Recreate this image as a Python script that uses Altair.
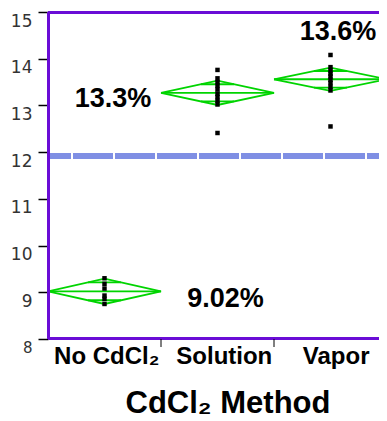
import altair as alt
import pandas as pd
import numpy as np

# ---- data ----
groups = ["No CdCl₂", "Solution", "Vapor"]
group_center = [0.5, 1.5, 2.5]
group_left = [0.0, 1.0, 2.0]
group_right = [1.0, 2.0, 3.0]
means = [9.02, 13.27, 13.56]
diamond_half = [0.27, 0.26, 0.25]

pts_no = [9.30, 9.18, 9.08, 8.93, 8.86, 8.75]
pts_solution = [13.76, 13.58, 13.50, 13.42, 13.34, 13.25, 13.18, 13.10, 13.02, 12.41]
pts_vapor = [14.08, 13.82, 13.75, 13.68, 13.62, 13.55, 13.48, 13.40, 13.32, 12.55]

grand_mean = 11.92

annot_text = ["9.02%", "13.3%", "13.6%"]
annot_x = [1.57, 0.575, 2.566]
annot_y = [8.69, 12.97, 14.40]

label_x = [0.52, 1.56, 2.55]
y_ticks = [8, 9, 10, 11, 12, 13, 14, 15]
boundaries = [1.0, 2.0]

UNIT = 113          # pixels per category
W, H = 331, 327     # visible plot area (right part of last category is cut off)
X_MAX = W / UNIT
PURPLE = "#6a0dd6"
GREEN = "#00d400"
FONT = "Liberation Sans"

# ---- tables built from the arrays ----
seg_rows = []
for g, l, r, c, m, h in zip(groups, group_left, group_right, group_center, means, diamond_half):
    poly = [(l, m), (c, m + h), (r, m), (c, m - h), (l, m)]
    for k, (x, y) in enumerate(poly):
        seg_rows.append(dict(seg=g + "-d", o=k, x=x, y=y))
    seg_rows.append(dict(seg=g + "-m", o=0, x=l, y=m))
    seg_rows.append(dict(seg=g + "-m", o=1, x=r, y=m))
    off = h / np.sqrt(2)
    hw = 0.5 * (r - l) * (1 - 1 / np.sqrt(2))
    for s, sign in (("u", 1), ("b", -1)):
        seg_rows.append(dict(seg=g + "-" + s, o=0, x=c - hw, y=m + sign * off))
        seg_rows.append(dict(seg=g + "-" + s, o=1, x=c + hw, y=m + sign * off))
seg_df = pd.DataFrame(seg_rows)

pt_df = pd.DataFrame(
    [dict(x=group_center[0], y=v) for v in pts_no]
    + [dict(x=group_center[1], y=v) for v in pts_solution]
    + [dict(x=group_center[2], y=v) for v in pts_vapor]
)
ann_df = pd.DataFrame(dict(x=annot_x, y=annot_y, t=annot_text))
lab_df = pd.DataFrame(dict(x=label_x, t=groups))
bnd_df = pd.DataFrame(dict(x=boundaries))

xs = alt.Scale(domain=[0, X_MAX], nice=False, zero=False)
ys = alt.Scale(domain=[8, 15], nice=False, zero=False)

yaxis = alt.Axis(
    values=y_ticks,
    domain=False,
    grid=False,
    tickSize=10,
    tickColor="#000",
    tickWidth=1.5,
    labelBaseline="top",
    labelOffset=1,
    labelPadding=6,
    labelFont="DejaVu Sans",
    labelFontSize={"condition": {"test": "datum.value == 8", "value": 15}, "value": 17},
    labelColor="#333",
    title=None,
)


def Y(field="y:Q"):
    return alt.Y(field, scale=ys, axis=yaxis, title=None)


def X(field="x:Q"):
    return alt.X(field, scale=xs, axis=None, title=None)


grand = alt.Chart(pd.DataFrame(dict(y=[grand_mean]))).mark_rule(
    color="#7f8fe4", strokeWidth=6, strokeDash=[40, 2], strokeDashOffset=17
).encode(y=Y(), x=alt.value(0), x2=alt.value(W))

diamonds = alt.Chart(seg_df).mark_line(color=GREEN, strokeWidth=1.8, clip=True).encode(
    x=X(), y=Y(), detail="seg:N", order="o:Q"
)

points = alt.Chart(pt_df).mark_square(color="black", size=20, opacity=1).encode(x=X(), y=Y())

frame_src = pd.DataFrame(dict(a=[0]))
left = alt.Chart(frame_src).mark_rule(color=PURPLE, strokeWidth=3).encode(
    x=alt.value(0.5), y=alt.value(0), y2=alt.value(H)
)
top = alt.Chart(frame_src).mark_rule(color=PURPLE, strokeWidth=3).encode(
    x=alt.value(0), x2=alt.value(W), y=alt.value(0.5)
)
bottom = alt.Chart(frame_src).mark_rule(color=PURPLE, strokeWidth=3).encode(
    x=alt.value(0), x2=alt.value(W), y=alt.value(H - 0.5)
)

ticks = alt.Chart(bnd_df).mark_rule(color="black", strokeWidth=1).encode(
    x=X(), y=alt.value(H), y2=alt.value(H + 8)
)

ann = alt.Chart(ann_df).mark_text(
    font=FONT, fontWeight="bold", fontSize=27, baseline="alphabetic", color="black"
).encode(x=X(), y=Y(), text="t:N")

labels = alt.Chart(lab_df).mark_text(
    font=FONT, fontWeight="bold", fontSize=24, baseline="alphabetic", color="black"
).encode(x=X(), y=alt.value(H + 25), text="t:N")

title = alt.Chart(frame_src).mark_text(
    font=FONT, fontWeight="bold", fontSize=31, baseline="alphabetic", color="black",
    text="CdCl₂ Method",
).encode(x=alt.value(180), y=alt.value(H + 74))

chart = alt.layer(grand, diamonds, points, left, top, bottom, ticks, ann, labels, title).properties(
    width=W,
    height=H,
    autosize=alt.AutoSizeParams(type="none"),
    padding={"left": 40, "top": 4, "right": 0, "bottom": 80},
).configure_view(stroke=None).configure(background="white")

chart.save("out.html", embed_options={"renderer": "svg", "actions": False})
